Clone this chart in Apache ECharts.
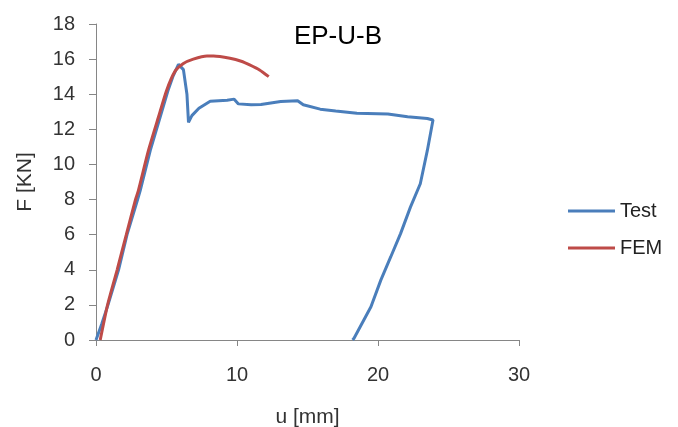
<!DOCTYPE html>
<html><head><meta charset="utf-8">
<script src="https://cdn.jsdelivr.net/npm/echarts@6/dist/echarts.min.js"></script>
<style>html,body{margin:0;padding:0;background:#fff;overflow:hidden}#c{width:678px;height:427px}</style>
</head><body><div id="c"></div>
<script>
const title = "EP-U-B";
const xName = "u [mm]";
const yName = "F [KN]";
const seriesNames = ["Test", "FEM"];
const testU = [0, 0.4, 0.85, 1.6, 2.2, 2.95, 3.13, 3.85, 4.55, 5.1, 5.45, 5.85, 6.2, 6.45, 6.56, 6.8, 7.3, 8.1, 9.3, 9.8, 10.1, 11.0, 11.7, 13.1, 14.3, 14.7, 15.9, 17.0, 18.5, 20.7, 22.1, 23.5, 23.9, 23.5, 23.0, 22.3, 21.6, 20.9, 20.2, 19.5, 18.3, 18.2];
const testF = [0, 0.9, 2.0, 4.0, 6.0, 8.0, 8.5, 10.8, 12.7, 14.2, 15.0, 15.7, 15.4, 14.0, 12.4, 12.78, 13.2, 13.6, 13.66, 13.72, 13.45, 13.4, 13.42, 13.59, 13.63, 13.4, 13.15, 13.05, 12.92, 12.87, 12.72, 12.62, 12.53, 10.8, 8.9, 7.57, 6.06, 4.73, 3.41, 1.89, 0.1, 0];
const femU = [0.3, 0.82, 1.5, 2.15, 2.8, 3.0, 3.72, 4.43, 5.0, 5.6, 6.2, 6.9, 7.87, 8.34, 9.5, 10.3, 10.9, 11.6, 12.25];
const femF = [0, 2.0, 4.0, 6.0, 8.0, 8.5, 10.8, 12.7, 14.2, 15.3, 15.75, 16.0, 16.18, 16.18, 16.05, 15.88, 15.67, 15.38, 15.0];
const xTicks = {min: 0, max: 30, interval: 10};
const yTicks = {min: 0, max: 18, interval: 2};

const pair = (u, f) => u.map((v, i) => [v, f[i]]);
const chart = echarts.init(document.getElementById('c'));
const font = 'Liberation Sans, Arial, sans-serif';
const axisCol = '#868686';
chart.setOption({
  animation: false,
  backgroundColor: '#fff',
  title: {text: title, left: 333, top: 19, textAlign: 'center',
    textStyle: {fontFamily: font, fontSize: 26, fontWeight: 'normal', color: '#000'}},
  grid: {left: 96, right: 159, top: 24, bottom: 87, containLabel: false, outerBoundsMode: 'none'},
  legend: {
    orient: 'vertical', left: 563, top: 196, itemGap: 17,
    itemWidth: 47, itemHeight: 3, icon: 'rect',
    textStyle: {fontFamily: font, fontSize: 20, color: '#222'},
    data: seriesNames
  },
  xAxis: {
    type: 'value', min: xTicks.min, max: xTicks.max, interval: xTicks.interval,
    name: xName, nameLocation: 'middle', nameGap: 67,
    nameTextStyle: {fontFamily: font, fontSize: 21, color: '#333'},
    axisLine: {show: true, lineStyle: {color: axisCol, width: 1}},
    axisTick: {show: true, length: 6, lineStyle: {color: axisCol}},
    axisLabel: {fontFamily: font, fontSize: 20, color: '#333', margin: 25},
    splitLine: {show: false}
  },
  yAxis: {
    type: 'value', min: yTicks.min, max: yTicks.max, interval: yTicks.interval,
    name: yName, nameLocation: 'middle', nameGap: 60, nameRotate: 90,
    nameTextStyle: {fontFamily: font, fontSize: 21, color: '#333'},
    axisLine: {show: true, lineStyle: {color: axisCol, width: 1}},
    axisTick: {show: true, length: 7, lineStyle: {color: axisCol}},
    axisLabel: {fontFamily: font, fontSize: 20, color: '#333', margin: 21},
    splitLine: {show: false}
  },
  series: [
    {name: seriesNames[0], type: 'line', data: pair(testU, testF), showSymbol: false,
     lineStyle: {color: '#4a7ebb', width: 3}, itemStyle: {color: '#4a7ebb'}, z: 2},
    {name: seriesNames[1], type: 'line', data: pair(femU, femF), showSymbol: false, smooth: 0.2,
     lineStyle: {color: '#be4b48', width: 3}, itemStyle: {color: '#be4b48'}, z: 3}
  ]
});
</script></body></html>
